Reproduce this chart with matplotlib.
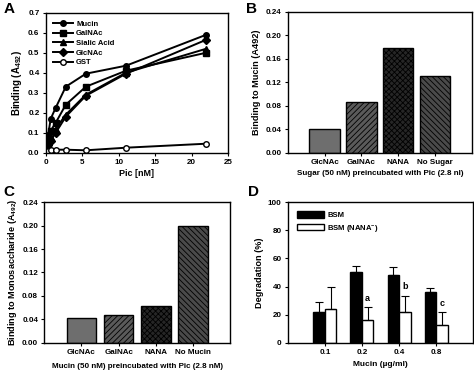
import numpy as np
import matplotlib
matplotlib.use("Agg")
import matplotlib.pyplot as plt
from matplotlib.patches import Patch

plt.rcParams['font.family'] = ['Liberation Sans', 'DejaVu Sans']
plt.rcParams['font.weight'] = 'bold'
plt.rcParams['axes.labelweight'] = 'bold'
plt.rcParams['mathtext.fontset'] = 'custom'
plt.rcParams['mathtext.rm'] = 'Liberation Sans:bold'
plt.rcParams['mathtext.it'] = 'Liberation Sans:bold'
plt.rcParams['mathtext.default'] = 'rm'
plt.rcParams['hatch.linewidth'] = 0.6

# --- Panel A: binding curves ---
pic_nm = [0, 0.34, 0.69, 1.375, 2.75, 5.5, 11, 22]
mucin = [0.04, 0.09, 0.17, 0.225, 0.33, 0.395, 0.435, 0.59]
galnac = [0.03, 0.06, 0.11, 0.15, 0.24, 0.33, 0.41, 0.50]
sialic = [0.02, 0.04, 0.08, 0.12, 0.19, 0.29, 0.40, 0.52]
glcnac = [0.01, 0.04, 0.06, 0.10, 0.18, 0.285, 0.395, 0.565]
gst = [0.0, 0.01, 0.015, 0.015, 0.015, 0.012, 0.025, 0.045]

# --- Panel B ---
b_labels = ['GlcNAc', 'GalNAc', 'NANA', 'No Sugar']
b_values = [0.040, 0.087, 0.178, 0.131]

# --- Panel C ---
c_labels = ['GlcNAc', 'GalNAc', 'NANA', 'No Mucin']
c_values = [0.043, 0.047, 0.063, 0.199]

# --- Panel D ---
d_labels = ['0.1', '0.2', '0.4', '0.8']
bsm = [22, 50, 48, 36]
bsm_err = [7, 4.5, 6, 3]
bsm_nana = [24, 16, 22, 12.5]
bsm_nana_err = [16, 9.5, 11.5, 9.5]
d_letters = ['', 'a', 'b', 'c']

fig = plt.figure(figsize=(4.74, 3.70), dpi=100)

axA = fig.add_axes([0.0964, 0.5873, 0.3852, 0.3784])
axB = fig.add_axes([0.607, 0.5873, 0.3888, 0.3811])
axC = fig.add_axes([0.0935, 0.0738, 0.3918, 0.3795])
axD = fig.add_axes([0.607, 0.0738, 0.3916, 0.3795])

for ax in [axA, axB, axC, axD]:
    ax.tick_params(direction='out', length=2.5, width=0.8, labelsize=5.8, pad=2)
    for s in ax.spines.values():
        s.set_linewidth(1.0)

# A
kw = dict(color='black', lw=1.4, ms=4)
axA.plot(pic_nm, mucin, marker='o', label='Mucin', **kw)
axA.plot(pic_nm, galnac, marker='s', label='GalNAc', **kw)
axA.plot(pic_nm, sialic, marker='^', label='Sialic Acid', **kw)
axA.plot(pic_nm, glcnac, marker='D', label='GlcNAc', **kw)
axA.plot(pic_nm, gst, marker='o', mfc='white', label='GST', **kw)
axA.set_xlim(0, 25)
axA.set_ylim(0, 0.7)
axA.set_xticks([0, 5, 10, 15, 20, 25])
axA.set_yticks(np.arange(0, 0.71, 0.1))
axA.set_yticklabels(['%.1f' % v for v in np.arange(0, 0.71, 0.1)])
axA.set_xlabel('Pic [nM]', fontsize=6.5, labelpad=2)
axA.set_ylabel('Binding (A$_{492}$)', fontsize=7, labelpad=3)
axA.legend(loc='upper left', frameon=False, fontsize=5.5, handlelength=2.6,
           labelspacing=0.3, borderaxespad=0.6, handletextpad=0.4)

# B
xb = np.arange(1, len(b_labels) + 1)
faces = ['#6e6e6e', '#5a5a5a', '#262626', '#4a4a4a']
hatches = [None, '//////', 'xxxxxx', '\\\\\\\\\\\\']
for x, v, f, h in zip(xb, b_values, faces, hatches):
    axB.bar(x, v, width=0.82, color=f, edgecolor='black', hatch=h, linewidth=1.0)
axB.set_xlim(0, 5)
axB.set_ylim(0, 0.24)
axB.set_xticks(xb)
axB.set_xticklabels(b_labels)
axB.set_yticks(np.arange(0, 0.241, 0.04))
axB.set_yticklabels(['%.2f' % v for v in np.arange(0, 0.241, 0.04)])
axB.set_xlabel('Sugar (50 nM) preincubated with Pic (2.8 nl)', fontsize=5.8, labelpad=3)
axB.set_ylabel('Binding to Mucin (A492)', fontsize=6.6, labelpad=3)

# C
xc = np.arange(1, len(c_labels) + 1)
for x, v, f, h in zip(xc, c_values, faces, hatches):
    axC.bar(x, v, width=0.8, color=f, edgecolor='black', hatch=h, linewidth=1.0)
axC.set_xlim(0, 5)
axC.set_ylim(0, 0.24)
axC.set_xticks(xc)
axC.set_xticklabels(c_labels)
axC.set_yticks(np.arange(0, 0.241, 0.04))
axC.set_yticklabels(['%.2f' % v for v in np.arange(0, 0.241, 0.04)])
axC.set_xlabel('Mucin (50 nM) preincubated with Pic (2.8 nM)', fontsize=5.8, labelpad=5)
axC.set_ylabel('Binding to Monosaccharide (A$_{492}$)', fontsize=6.6, labelpad=2)

# D
xd = np.arange(1, len(d_labels) + 1)
w = 0.31
axD.bar(xd - w / 2, bsm, width=w, color='black', edgecolor='black', linewidth=1.0,
        yerr=[np.zeros(4), bsm_err], capsize=3,
        error_kw=dict(ecolor='black', elinewidth=0.8, capthick=0.8))
axD.bar(xd + w / 2, bsm_nana, width=w, color='white', edgecolor='black', linewidth=1.0,
        yerr=[np.zeros(4), bsm_nana_err], capsize=3,
        error_kw=dict(ecolor='black', elinewidth=0.8, capthick=0.8))
for x, v, e, t in zip(xd, bsm_nana, bsm_nana_err, d_letters):
    if t:
        axD.text(x + w / 2, v + e + 3, t, ha='center', va='bottom', fontsize=6.5)
axD.set_xlim(0, 5)
axD.set_ylim(0, 100)
axD.set_xticks(xd)
axD.set_xticklabels(d_labels)
axD.set_yticks(range(0, 101, 20))
axD.set_xlabel('Mucin (\u00b5g/ml)', fontsize=6, labelpad=4)
axD.set_ylabel('Degradation (%)', fontsize=6.6, labelpad=3)
handles = [Patch(facecolor='black', edgecolor='black'),
           Patch(facecolor='white', edgecolor='black')]
axD.legend(handles, ['BSM', 'BSM (NANA$^{-}$)'], loc='upper left', frameon=False,
           fontsize=5.5, handlelength=3.6, handleheight=1.0, labelspacing=0.4,
           borderaxespad=0.8, handletextpad=0.4)

fig.text(0.008, 0.995, 'A', fontsize=11, fontweight='bold', va='top')
fig.text(0.52, 0.995, 'B', fontsize=11, fontweight='bold', va='top')
fig.text(0.008, 0.50, 'C', fontsize=11, fontweight='bold', va='top')
fig.text(0.524, 0.50, 'D', fontsize=11, fontweight='bold', va='top')

fig.savefig('out.png', dpi=100)
